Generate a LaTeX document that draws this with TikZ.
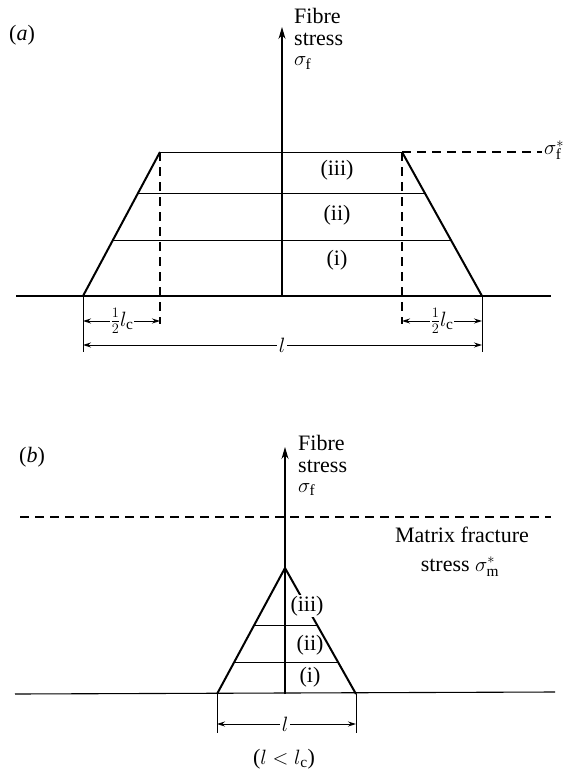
\documentclass[tikz,border=0pt]{standalone}
\usepackage{fontspec}
\setmainfont{Liberation Serif}
\usetikzlibrary{arrows.meta,calc}
\begin{document}
\begin{tikzpicture}[x=1pt,y=-1pt,
  thickline/.style={line width=2pt},
  thinline/.style={line width=1pt},
  baseline/.style={line width=1.1pt},
  dashline/.style={line width=1.2pt, dash pattern=on 9pt off 6pt},
  dimline/.style={line width=0.9pt},
  dimarrow/.style={line width=0.9pt, {Stealth[length=8pt,width=5pt]}-{Stealth[length=8pt,width=5pt]}},
  axisarrow/.style={line width=1.1pt, -{Stealth[length=12pt,width=7pt]}},
  lbl/.style={font=\fontsize{22}{25}\selectfont, inner sep=0pt},
  lblw/.style={lbl, fill=white, inner sep=2pt},
]
\useasboundingbox (0,0) rectangle (570,773);

% ---------------- (a) ----------------
\node[lbl] (la) at (22,35) {(\textit{a})};
\coordinate (aO) at (282,296);
\coordinate (aTip) at (282,27);
\coordinate (aBL) at (83,296);
\coordinate (aTL) at (160,152);
\coordinate (aTR) at (402,152);
\coordinate (aBR) at (482,296);
\coordinate (aBaseL) at (16,296);
\coordinate (aBaseR) at (551,296);

\draw[baseline] (aBaseL) -- (aBaseR);
\draw[axisarrow] (aO) -- (aTip);
\node[lbl, anchor=base west] (aFibre) at (294,24) {Fibre};
\node[lbl, anchor=base west] (aStress) at (294,46) {stress};
\node[lbl, anchor=base west] (aSig) at (294,66) {$\sigma_{\mathrm{f}}$};

% trapezoid
\draw[thickline] (aBL) -- (aTL);
\draw[thickline] (aTR) -- (aBR);
\draw[thinline] (aTL) -- (aTR);
\draw[thinline] ($(aBL)!0.715!(aTL)$) -- ($(aBR)!0.715!(aTR)$);
\draw[thinline] ($(aBL)!0.382!(aTL)$) -- ($(aBR)!0.382!(aTR)$);

\node[lbl] (aiii) at (337,170) {(iii)};
\node[lbl] (aii) at (337,215) {(ii)};
\node[lbl] (ai) at (337,260) {(i)};

% sigma_f^* level
\node[lbl, anchor=west] (aSigStar) at (544,150) {$\sigma_{\mathrm{f}}^{*}$};
\draw[dashline] (aTR) -- ([xshift=-2pt]aSigStar.west |- aTR);

% dashed verticals
\coordinate (aDL) at (160,324);
\coordinate (aDR) at (402,324);
\draw[dashline] (aTL) -- (aDL);
\draw[dashline] (aTR) -- (aDR);

% dimension ticks
\coordinate (aTickL) at (83,352);
\coordinate (aTickR) at (482,352);
\draw[dimline] (aBL) -- (aTickL);
\draw[dimline] (aBR) -- (aTickR);

% half lc dimensions
\coordinate (aH1a) at (83,321);
\coordinate (aH1b) at (160,321);
\coordinate (aH2a) at (402,321);
\coordinate (aH2b) at (482,321);
\draw[dimarrow] (aH1a) -- (aH1b);
\draw[dimarrow] (aH2a) -- (aH2b);
\node[lblw, inner sep=1pt] (aHalf1) at (122,321) {$\frac{1}{2}l_{\mathrm{c}}$};
\node[lblw, inner sep=1pt] (aHalf2) at (442,321) {$\frac{1}{2}l_{\mathrm{c}}$};

% l dimension
\coordinate (aLa) at (83,345);
\coordinate (aLb) at (482,345);
\draw[dimarrow] (aLa) -- (aLb);
\node[lblw] (aL) at (282,345) {$l$};

% ---------------- (b) ----------------
\node[lbl] (lb) at (32,457) {(\textit{b})};
\coordinate (bO) at (285,694);
\coordinate (bTip) at (285,447);
\coordinate (bApex) at (285,568);
\coordinate (bBL) at (217,694);
\coordinate (bBR) at (356,694);
\coordinate (bBaseL) at (15,694);
\coordinate (bBaseR) at (555,692);
\coordinate (bDashL) at (20,517);
\coordinate (bDashR) at (551,517);

\draw[baseline] (bBaseL) -- (bBaseR);
\draw[dashline] (bDashL) -- (bDashR);
\draw[axisarrow] (bO) -- (bTip);
\node[lbl, anchor=base west] (bFibre) at (298,450) {Fibre};
\node[lbl, anchor=base west] (bStress) at (298,472) {stress};
\node[lbl, anchor=base west] (bSig) at (298,492) {$\sigma_{\mathrm{f}}$};

\node[lbl, anchor=base] (bMatrix) at (462,542) {Matrix fracture};
\node[lbl, anchor=base] (bMstress) at (460,571) {stress $\sigma_{\mathrm{m}}^{*}$};

% triangle
\draw[thickline] (bBL) -- (bApex) -- (bBR);
\draw[thinline] ($(bBL)!0.54!(bApex)$) -- ($(bBR)!0.54!(bApex)$);
\draw[thinline] ($(bBL)!0.254!(bApex)$) -- ($(bBR)!0.254!(bApex)$);

\node[lblw, inner sep=1.5pt] (biii) at (307,606) {(iii)};
\node[lbl] (bii) at (310,645) {(ii)};
\node[lbl] (bi) at (310,677) {(i)};

% l dimension
\coordinate (bTickL) at (217,733);
\coordinate (bTickR) at (356,733);
\draw[dimline] (bBL) -- (bTickL);
\draw[dimline] (bBR) -- (bTickR);
\coordinate (bLa) at (217,724);
\coordinate (bLb) at (356,724);
\draw[dimarrow] (bLa) -- (bLb);
\node[lblw] (bL) at (285,724) {$l$};

\node[lbl] (bCond) at (284,759) {($l<l_{\mathrm{c}}$)};
\end{tikzpicture}
\end{document}
